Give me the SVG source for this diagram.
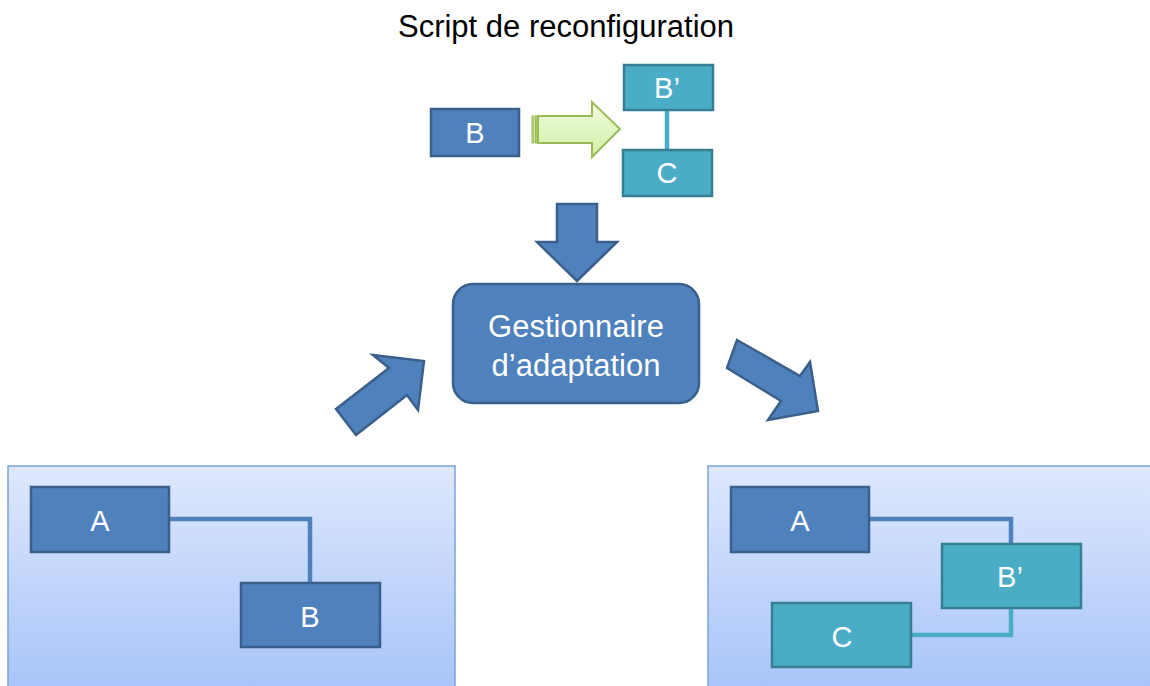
<svg xmlns="http://www.w3.org/2000/svg" width="1150" height="686" viewBox="0 0 1150 686">
<defs>
<linearGradient id="panel" x1="0" y1="0" x2="0" y2="1">
<stop offset="0" stop-color="#DEE8FC"/>
<stop offset="1" stop-color="#A6C3F9"/>
</linearGradient>
<linearGradient id="green" x1="0" y1="0" x2="0" y2="1">
<stop offset="0" stop-color="#F0FBDF"/>
<stop offset="1" stop-color="#D2F0A5"/>
</linearGradient>
<style>
.t{font-family:"Liberation Sans",Arial,sans-serif;text-anchor:middle}
.w{fill:#FFFFFF;font-size:29px}
.blue{fill:#4F81BD;stroke:#3A5F8B;stroke-width:2.5}
.teal{fill:#4BACC6;stroke:#367F92;stroke-width:2.5}
.panel{fill:url(#panel);stroke:#7EA3D6;stroke-width:1.5}
.bigarrow{fill:#4F81BD;stroke:#3A5F8B;stroke-width:2.5;stroke-linejoin:miter}
.cb{fill:none;stroke:#4F81BD;stroke-width:4.5}
.ct{fill:none;stroke:#4BACC6;stroke-width:4.5}
</style>
</defs>
<rect width="1150" height="686" fill="#FFFFFF"/>
<text class="t" x="566" y="37" font-size="31" fill="#000000">Script de reconfiguration</text>

<g id="panel-left">
<rect class="panel" x="8" y="466" width="447" height="230"/>
</g>
<g id="panel-right">
<rect class="panel" x="708" y="466" width="460" height="230"/>
</g>

<g id="connectors">
<polyline class="ct" points="667,110 667,150"/>
<polyline class="cb" points="169,519 310,519 310,583"/>
<polyline class="cb" points="869,519 1011,519 1011,544"/>
<polyline class="ct" points="911,635 1011,635 1011,608"/>
<g id="arrow-green">
<polygon points="538,116 592,116 592,102 620,129 592,157 592,143 538,143" fill="url(#green)" stroke="#9BBB59" stroke-width="2"/>
<rect x="532" y="116" width="2" height="27" fill="#B5D57A" stroke="#9BBB59" stroke-width="1"/>
<rect x="535.5" y="116" width="1.5" height="27" fill="#B5D57A" stroke="#9BBB59" stroke-width="1"/>
</g>
<polygon id="arrow-down" class="bigarrow" points="557,204 597,204 597,242 617,242 577,281 537,242 557,242"/>
<polygon id="arrow-in" class="bigarrow" points="336,409 389,368 373,355 424,361 418,410 407,395 356,435"/>
<polygon id="arrow-out" class="bigarrow" points="737,340 800,376 810,362 818,411 768,420 781,401 727,368"/>
</g>

<g id="node-B-script">
<rect class="blue" x="431" y="109" width="88" height="47"/>
<text class="t w" x="475" y="143">B</text>
</g>
<g id="node-Bp-script">
<rect class="teal" x="624" y="65" width="89" height="45"/>
<text class="t w" x="667" y="98">B’</text>
</g>
<g id="node-C-script">
<rect class="teal" x="623" y="150" width="89" height="46"/>
<text class="t w" x="667" y="183">C</text>
</g>

<g id="node-gestionnaire">
<rect class="blue" x="453" y="284" width="246" height="119" rx="20" ry="20"/>
<text class="t" x="576" y="337" font-size="31" fill="#FFFFFF">Gestionnaire</text>
<text class="t" x="576" y="376" font-size="31" fill="#FFFFFF">d’adaptation</text>
</g>

<g id="node-A-left">
<rect class="blue" x="31" y="487" width="138" height="65"/>
<text class="t w" x="100" y="531">A</text>
</g>
<g id="node-B-left">
<rect class="blue" x="241" y="583" width="139" height="64"/>
<text class="t w" x="310" y="627">B</text>
</g>

<g id="node-A-right">
<rect class="blue" x="731" y="487" width="138" height="65"/>
<text class="t w" x="800" y="531">A</text>
</g>
<g id="node-Bp-right">
<rect class="teal" x="942" y="544" width="139" height="64"/>
<text class="t w" x="1010" y="587">B’</text>
</g>
<g id="node-C-right">
<rect class="teal" x="772" y="603" width="139" height="64"/>
<text class="t w" x="842" y="647">C</text>
</g>
</svg>
